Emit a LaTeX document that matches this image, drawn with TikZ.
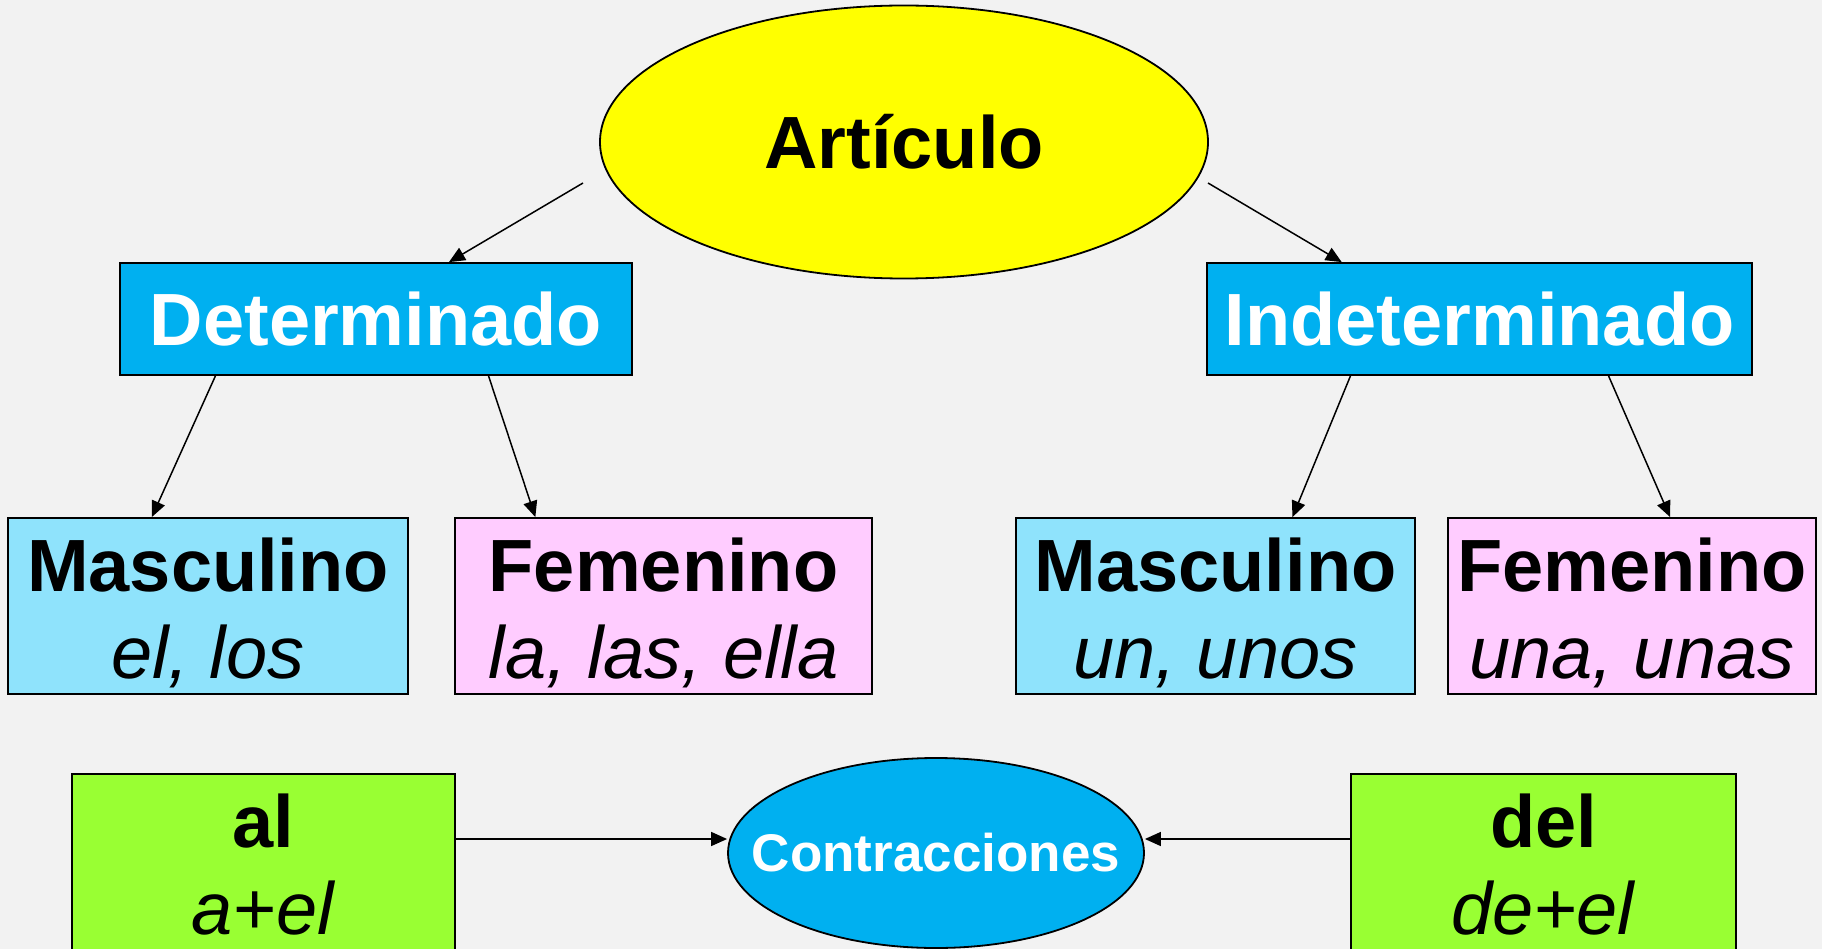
\documentclass[tikz,border=0pt]{standalone}
\usepackage{fontspec}
\setmainfont{Liberation Sans}
\usetikzlibrary{arrows.meta,calc,shapes.geometric}
\definecolor{bg}{HTML}{F2F2F2}
\definecolor{ayel}{HTML}{FFFF00}
\definecolor{ablue}{HTML}{00B0F0}
\definecolor{alblue}{HTML}{8FE3FC}
\definecolor{apink}{HTML}{FFCCFF}
\definecolor{agreen}{HTML}{99FF33}
\newcommand{\topline}[1]{\rule{0pt}{73pt}\textbf{#1}}
\newcommand{\botline}[1]{\rule[-16pt]{0pt}{16pt}\textit{#1}}
\begin{document}
\begin{tikzpicture}[x=1pt,y=-1pt,
  box/.style={draw=black,line width=1.8pt,rectangle,inner sep=0pt,align=center,
    font=\fontsize{74}{87}\selectfont},
  headbox/.style={box,fill=ablue,text=white,minimum height=112pt,font=\fontsize{74}{87}\selectfont\bfseries},
  leafbox/.style={box,minimum height=176pt},
  oval/.style={ellipse,draw=black,line width=1.8pt,inner sep=0pt},
  conn/.style={draw=black,line width=1.5pt,-{Triangle[length=16pt,width=14pt]}}]
\fill[bg] (0,0) rectangle (1822,949);
\clip (0,0) rectangle (1822,949);
\node[oval,fill=ayel,minimum width=608pt,minimum height=273pt,font=\fontsize{74}{87}\selectfont\bfseries] (art) at (904,142) {\makebox[0pt]{\raisebox{-2pt}{Artículo}}};
\node[headbox,minimum width=512pt] (det) at (376,319) {Determinado};
\node[headbox,minimum width=545pt] (ind) at (1479.5,319) {Indeterminado};
\node[leafbox,fill=alblue,minimum width=400pt] (mascL) at (208,606) {\topline{Masculino}\\\botline{el, los}};
\node[leafbox,fill=apink,minimum width=417pt] (femL) at (663.5,606) {\topline{Femenino}\\\botline{la, las, ella}};
\node[leafbox,fill=alblue,minimum width=399pt] (mascR) at (1215.5,606) {\topline{Masculino}\\\botline{un, unos}};
\node[leafbox,fill=apink,minimum width=368pt] (femR) at (1632,606) {\topline{Femenino}\\\botline{una, unas}};
\node[leafbox,fill=agreen,minimum width=383pt] (al) at (263.5,862) {\topline{al}\\\botline{a+el}};
\node[leafbox,fill=agreen,minimum width=385pt] (del) at (1543.5,862) {\topline{del}\\\botline{de+el}};
\node[oval,fill=ablue,text=white,minimum width=416pt,minimum height=190pt,font=\fontsize{53}{60}\selectfont\bfseries] (con) at (936,853) {\makebox[0pt]{\raisebox{-3pt}{Contracciones}}};
\coordinate (artL) at (583,183);
\coordinate (artR) at (1208,183);
\draw[conn] (artL) -- ($(det.north west)!0.642!(det.north east)$);
\draw[conn] (artR) -- ($(ind.north west)!0.248!(ind.north east)$);
\draw[conn] ($(det.south west)!0.1875!(det.south east)$) -- ($(mascL.north west)!0.36!(mascL.north east)$);
\draw[conn] ($(det.south west)!0.719!(det.south east)$) -- ($(femL.north west)!0.194!(femL.north east)$);
\draw[conn] ($(ind.south west)!0.264!(ind.south east)$) -- ($(mascR.north west)!0.692!(mascR.north east)$);
\draw[conn] ($(ind.south west)!0.736!(ind.south east)$) -- ($(femR.north west)!0.603!(femR.north east)$);
\draw[conn] ([yshift=23pt]al.east) -- ([yshift=23pt]al.east -| con.west);
\draw[conn] ([yshift=23pt]del.west) -- ([yshift=23pt]del.west -| con.east);
\end{tikzpicture}
\end{document}
